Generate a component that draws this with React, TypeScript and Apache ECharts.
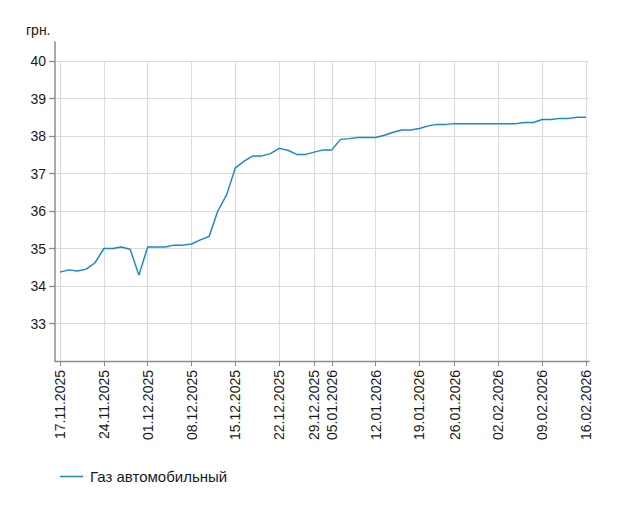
import React, { useEffect, useRef } from "react";
import * as echarts from "echarts";

const categories = [
  "17.11.2025", "18.11.2025", "19.11.2025", "20.11.2025", "21.11.2025",
  "24.11.2025", "25.11.2025", "26.11.2025", "27.11.2025", "28.11.2025",
  "01.12.2025", "02.12.2025", "03.12.2025", "04.12.2025", "05.12.2025",
  "08.12.2025", "09.12.2025", "10.12.2025", "11.12.2025", "12.12.2025",
  "15.12.2025", "16.12.2025", "17.12.2025", "18.12.2025", "19.12.2025",
  "22.12.2025", "23.12.2025", "24.12.2025", "26.12.2025",
  "29.12.2025", "30.12.2025",
  "05.01.2026", "06.01.2026", "07.01.2026", "08.01.2026", "09.01.2026",
  "12.01.2026", "13.01.2026", "14.01.2026", "15.01.2026", "16.01.2026",
  "19.01.2026", "20.01.2026", "21.01.2026", "23.01.2026",
  "26.01.2026", "27.01.2026", "28.01.2026", "29.01.2026", "30.01.2026",
  "02.02.2026", "03.02.2026", "04.02.2026", "05.02.2026", "06.02.2026",
  "09.02.2026", "10.02.2026", "11.02.2026", "12.02.2026", "13.02.2026",
  "16.02.2026",
];

const gasValues = [
  34.37, 34.43, 34.40, 34.45, 34.62,
  35.00, 35.00, 35.04, 34.98, 34.29,
  35.04, 35.04, 35.04, 35.09, 35.09,
  35.12, 35.23, 35.32, 36.00, 36.43,
  37.15, 37.33, 37.47, 37.47, 37.53,
  37.67, 37.62, 37.51, 37.51,
  37.57, 37.63,
  37.63, 37.91, 37.93, 37.96, 37.96,
  37.96, 38.02, 38.10, 38.16, 38.16,
  38.20, 38.27, 38.31, 38.31,
  38.33, 38.33, 38.33, 38.33, 38.33,
  38.33, 38.33, 38.33, 38.36, 38.36,
  38.44, 38.44, 38.47, 38.47, 38.50,
  38.50,
];

const tickLabels = [
  "17.11.2025", "24.11.2025", "01.12.2025", "08.12.2025", "15.12.2025",
  "22.12.2025", "29.12.2025", "05.01.2026", "12.01.2026", "19.01.2026",
  "26.01.2026", "02.02.2026", "09.02.2026", "16.02.2026",
];

const seriesName = "Газ автомобильный";
const unitLabel = "грн.";
const yMin = 32;
const yMax = 40;

const FONT = "Arial, 'Liberation Sans', sans-serif";
const TEXT = "#1a1a1a";
const AXIS = "#8c8c8c";
const GRID = "#dcdcdc";
const LINE = "#1a88cc";

export default function App() {
  const ref = useRef<HTMLDivElement>(null);

  useEffect(() => {
    if (!ref.current) return;
    const chart = echarts.init(ref.current, undefined, { renderer: "svg" });
    const isTick = (_i: number, v: string) => tickLabels.includes(v);
    chart.setOption({
      animation: false,
      textStyle: { fontFamily: FONT },
      grid: [
        { left: 60, right: 42, top: 61, bottom: 145 },
        { left: 55, right: 39, top: 61, bottom: 145 },
        { left: 55, right: 39, top: 42, bottom: 145 },
      ],
      xAxis: [
        {
          type: "category",
          gridIndex: 0,
          data: categories,
          boundaryGap: false,
          axisLine: { show: false },
          axisTick: {
            show: true,
            interval: isTick,
            length: 5,
            lineStyle: { color: AXIS, width: 1 },
          },
          axisLabel: {
            interval: isTick,
            rotate: 90,
            margin: 9,
            fontSize: 14,
            color: TEXT,
            fontFamily: FONT,
          },
          splitLine: {
            show: true,
            interval: isTick,
            lineStyle: { color: GRID, width: 1.2 },
          },
        },
        {
          type: "value",
          gridIndex: 1,
          min: 0,
          max: 1,
          axisLine: { show: true, onZero: false, lineStyle: { color: AXIS, width: 1.3 } },
          axisTick: { show: false },
          axisLabel: { show: false },
          splitLine: { show: false },
        },
        {
          type: "value",
          gridIndex: 2,
          min: 0,
          max: 1,
          show: false,
        },
      ],
      yAxis: [
        {
          type: "value",
          gridIndex: 0,
          min: yMin,
          max: yMax,
          show: false,
        },
        {
          type: "value",
          gridIndex: 1,
          min: yMin,
          max: yMax,
          interval: 1,
          axisLine: { show: false },
          axisTick: { show: true, length: 6, lineStyle: { color: AXIS, width: 1.3 } },
          axisLabel: {
            showMinLabel: false,
            fontSize: 14,
            color: TEXT,
            margin: 9,
            fontFamily: FONT,
          },
          splitLine: { show: true, lineStyle: { color: GRID, width: 1.2 } },
        },
        {
          type: "value",
          gridIndex: 2,
          min: 0,
          max: 1,
          axisLine: { show: true, lineStyle: { color: AXIS, width: 1.5 } },
          axisTick: { show: false },
          axisLabel: { show: false },
          splitLine: { show: false },
        },
      ],
      legend: {
        show: true,
        left: 60,
        top: 469,
        padding: 0,
        icon: "rect",
        itemWidth: 23,
        itemHeight: 1.5,
        itemGap: 10,
        textStyle: { fontSize: 15, color: TEXT, fontFamily: FONT, padding: [0, 0, 0, 2] },
        data: [seriesName],
      },
      graphic: [
        {
          type: "text",
          left: 26,
          top: 23,
          style: { text: unitLabel, fontSize: 14, fill: TEXT, fontFamily: FONT },
        },
      ],
      series: [
        {
          name: seriesName,
          type: "line",
          xAxisIndex: 0,
          yAxisIndex: 0,
          data: gasValues,
          showSymbol: false,
          symbol: "none",
          lineStyle: { color: LINE, width: 1.5 },
          itemStyle: { color: LINE },
          z: 5,
        },
      ],
    });
    return () => chart.dispose();
  }, []);

  return (
    <div
      ref={ref}
      style={{ position: "fixed", left: 0, top: 0, width: 628, height: 506, background: "#fff" }}
    />
  );
}
